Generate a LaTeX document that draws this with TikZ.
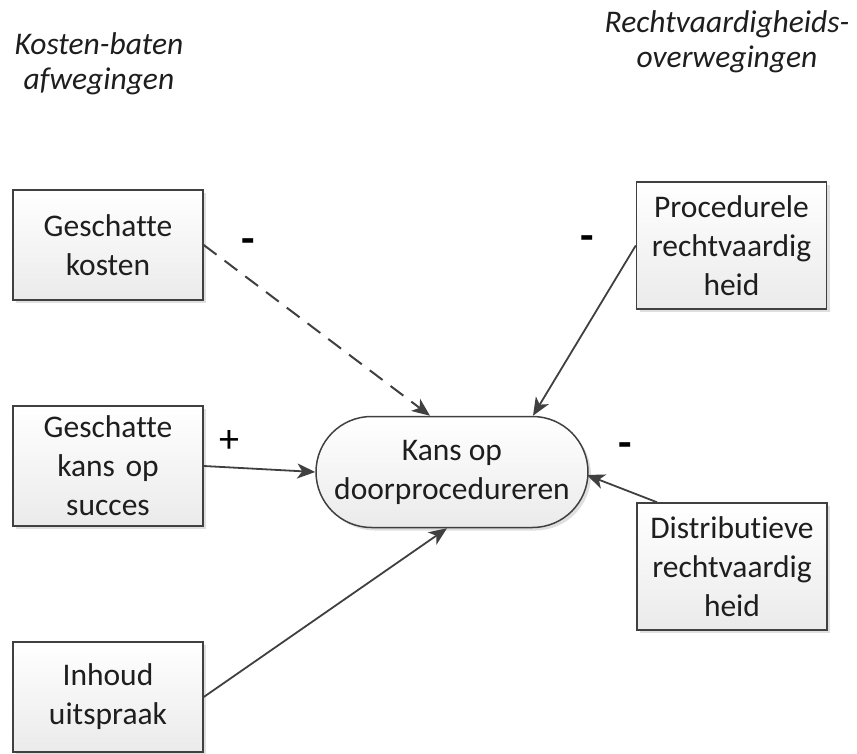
\documentclass[tikz,border=0pt]{standalone}
\usepackage{fontspec}
\setmainfont{Carlito}[Ligatures={NoCommon}]
\usetikzlibrary{arrows.meta,shadows,shapes.misc,calc}
\definecolor{edge}{HTML}{404040}
\definecolor{arr}{HTML}{404040}
\definecolor{txt}{HTML}{1E1E1E}
\tikzset{
  factor/.style={rectangle,draw=edge,line width=1.5pt,top color=white,bottom color=black!8,
    drop shadow={opacity=0.25,shadow xshift=3pt,shadow yshift=-3pt},
    minimum width=190pt,text width=186pt,align=center,inner sep=0pt,text=txt,
    font=\fontsize{31.5}{39}\selectfont},
  goal/.style={rounded rectangle,draw=edge,line width=1.5pt,top color=white,bottom color=black!8,
    drop shadow={opacity=0.25,shadow xshift=3pt,shadow yshift=-3pt},
    minimum width=272pt,minimum height=111pt,align=center,inner sep=0pt,text=txt,
    font=\fontsize{31.5}{39}\selectfont},
  link/.style={draw=arr,line width=1.8pt,-{Stealth[length=18pt,width=15pt,inset=5pt]}},
  head/.style={align=center,text=txt,font=\fontsize{31.5}{35}\selectfont\itshape},
  sign/.style={text=black,font=\fontsize{44}{46}\selectfont\bfseries}
}
\begin{document}
\begin{tikzpicture}[x=1pt,y=-1pt]
\useasboundingbox (0,0) rectangle (857,754);
\node[head] (h1) at (99,64) {Kosten-baten\\afwegingen};
\node[head] (h2) at (727,42) {Rechtvaardigheids-\\overwegingen};
\node[factor,minimum height=110pt] (kosten) at (108,245) {Geschatte\\kosten};
\node[factor,minimum height=120pt] (succes) at (108,466) {Geschatte\\kans op\\succes};
\node[factor,minimum height=110pt] (inhoud) at (108,697) {Inhoud\\uitspraak};
\node[factor,minimum height=127pt] (proc) at (731.5,245.5) {Procedurele\\rechtvaardig\\heid};
\node[factor,minimum height=127pt] (dist) at (732,566.5) {Distributieve\\rechtvaardig\\heid};
\node[goal] (kans) at (452,472) {Kans op\\doorprocedureren};
\draw[link,line width=2pt,dash pattern=on 16pt off 10pt] (kosten.east) -- ([xshift=-22pt]kans.north);
\draw[link] (proc.west) -- ([xshift=81pt]kans.north);
\draw[link] (succes.east) -- (kans.west);
\draw[link] ([xshift=-75pt]dist.north) -- ([xshift=-2pt,yshift=-3pt]kans.east);
\draw[link] (inhoud.east) -- ([xshift=-5pt]kans.south);
\node[sign] (s1) at (248,246) {-};
\node[sign] (s2) at (587,243) {-};
\node[sign] (s3) at (625,450) {-};
\node[text=black,font=\fontsize{40}{42}\selectfont] (s4) at (229,442) {+};
\end{tikzpicture}
\end{document}
